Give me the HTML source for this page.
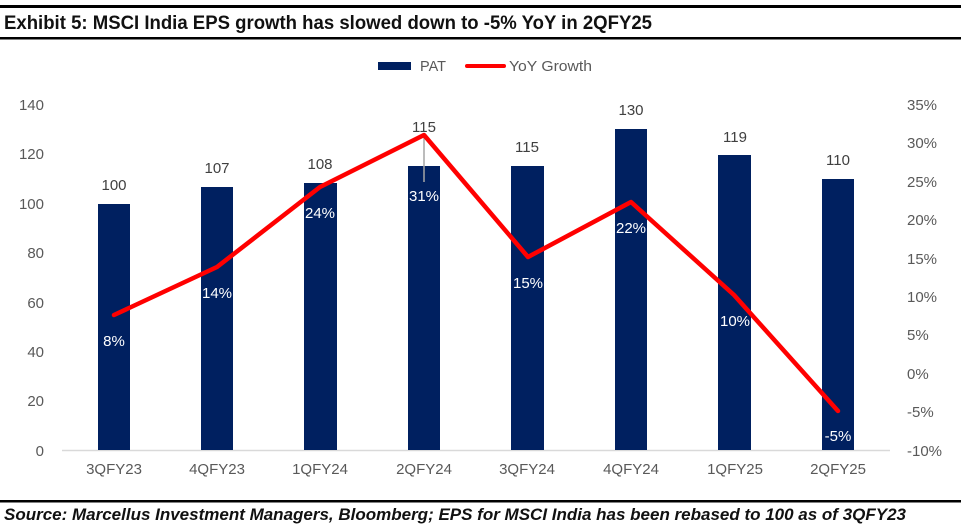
<!DOCTYPE html>
<html><head><meta charset="utf-8"><style>body{margin:0;background:#fff}svg{display:block}</style></head>
<body>
<svg width="961" height="530" viewBox="0 0 961 530" xmlns="http://www.w3.org/2000/svg" font-family="Liberation Sans, sans-serif">
<rect x="0" y="5" width="961" height="3" fill="#000"/>
<text x="4" y="29" font-size="19" font-weight="bold" textLength="648" lengthAdjust="spacingAndGlyphs" fill="#111">Exhibit 5: MSCI India EPS growth has slowed down to -5% YoY in 2QFY25</text>
<rect x="0" y="37" width="961" height="2.5" fill="#000"/>
<rect x="378" y="62" width="33" height="8" fill="#002060"/>
<text x="420" y="71" font-size="15" fill="#595959" textLength="26" lengthAdjust="spacingAndGlyphs">PAT</text>
<rect x="465" y="64" width="41" height="4" rx="2" fill="#f00"/>
<text x="509" y="71" font-size="15" fill="#595959" textLength="83" lengthAdjust="spacingAndGlyphs">YoY Growth</text>
<g font-size="15" fill="#595959" text-anchor="end">
<text x="44" y="110">140</text><text x="44" y="159">120</text><text x="44" y="209">100</text>
<text x="44" y="258">80</text><text x="44" y="308">60</text><text x="44" y="357">40</text>
<text x="44" y="406">20</text><text x="44" y="456">0</text>
</g>
<g font-size="15" fill="#595959" text-anchor="start">
<text x="907" y="110">35%</text><text x="907" y="148">30%</text><text x="907" y="187">25%</text>
<text x="907" y="225">20%</text><text x="907" y="264">15%</text><text x="907" y="302">10%</text>
<text x="907" y="340">5%</text><text x="907" y="379">0%</text><text x="907" y="417">-5%</text>
<text x="907" y="456">-10%</text>
</g>
<line x1="62" y1="450.5" x2="890" y2="450.5" stroke="#d9d9d9" stroke-width="1.5"/>
<g fill="#002060">
<rect x="98" y="204" width="32" height="246"/>
<rect x="201" y="187" width="32" height="263"/>
<rect x="304" y="183" width="33" height="267"/>
<rect x="408" y="166" width="32" height="284"/>
<rect x="511" y="166" width="33" height="284"/>
<rect x="615" y="129" width="32" height="321"/>
<rect x="718" y="155" width="33" height="295"/>
<rect x="822" y="179" width="32" height="271"/>
</g>
<g font-size="15" fill="#404040" text-anchor="middle">
<text x="114" y="190">100</text><text x="217" y="173">107</text><text x="320" y="169">108</text>
<text x="424" y="132">115</text><text x="527" y="152">115</text><text x="631" y="115">130</text>
<text x="735" y="142">119</text><text x="838" y="165">110</text>
</g>
<line x1="424" y1="137" x2="424" y2="182" stroke="#a6a6a6" stroke-width="1.5"/>
<polyline points="114,315 217,267 320,187 424,135 528,257 631,202 734,295 838,411" fill="none" stroke="#f00" stroke-width="4.5" stroke-linejoin="round" stroke-linecap="round"/>
<g font-size="15" fill="#fff" text-anchor="middle">
<text x="114" y="346">8%</text><text x="217" y="298">14%</text><text x="320" y="218">24%</text>
<text x="424" y="201">31%</text><text x="528" y="288">15%</text><text x="631" y="233">22%</text>
<text x="735" y="326">10%</text><text x="838" y="441">-5%</text>
</g>
<g font-size="15" fill="#595959" text-anchor="middle">
<text x="114" y="474">3QFY23</text><text x="217" y="474">4QFY23</text><text x="320" y="474">1QFY24</text>
<text x="424" y="474">2QFY24</text><text x="527" y="474">3QFY24</text><text x="631" y="474">4QFY24</text>
<text x="735" y="474">1QFY25</text><text x="838" y="474">2QFY25</text>
</g>
<rect x="0" y="500" width="961" height="2.5" fill="#000"/>
<text x="4" y="520" font-size="17" font-weight="bold" font-style="italic" textLength="902" lengthAdjust="spacingAndGlyphs" fill="#111">Source: Marcellus Investment Managers, Bloomberg; EPS for MSCI India has been rebased to 100 as of 3QFY23</text>
</svg>
</body></html>
